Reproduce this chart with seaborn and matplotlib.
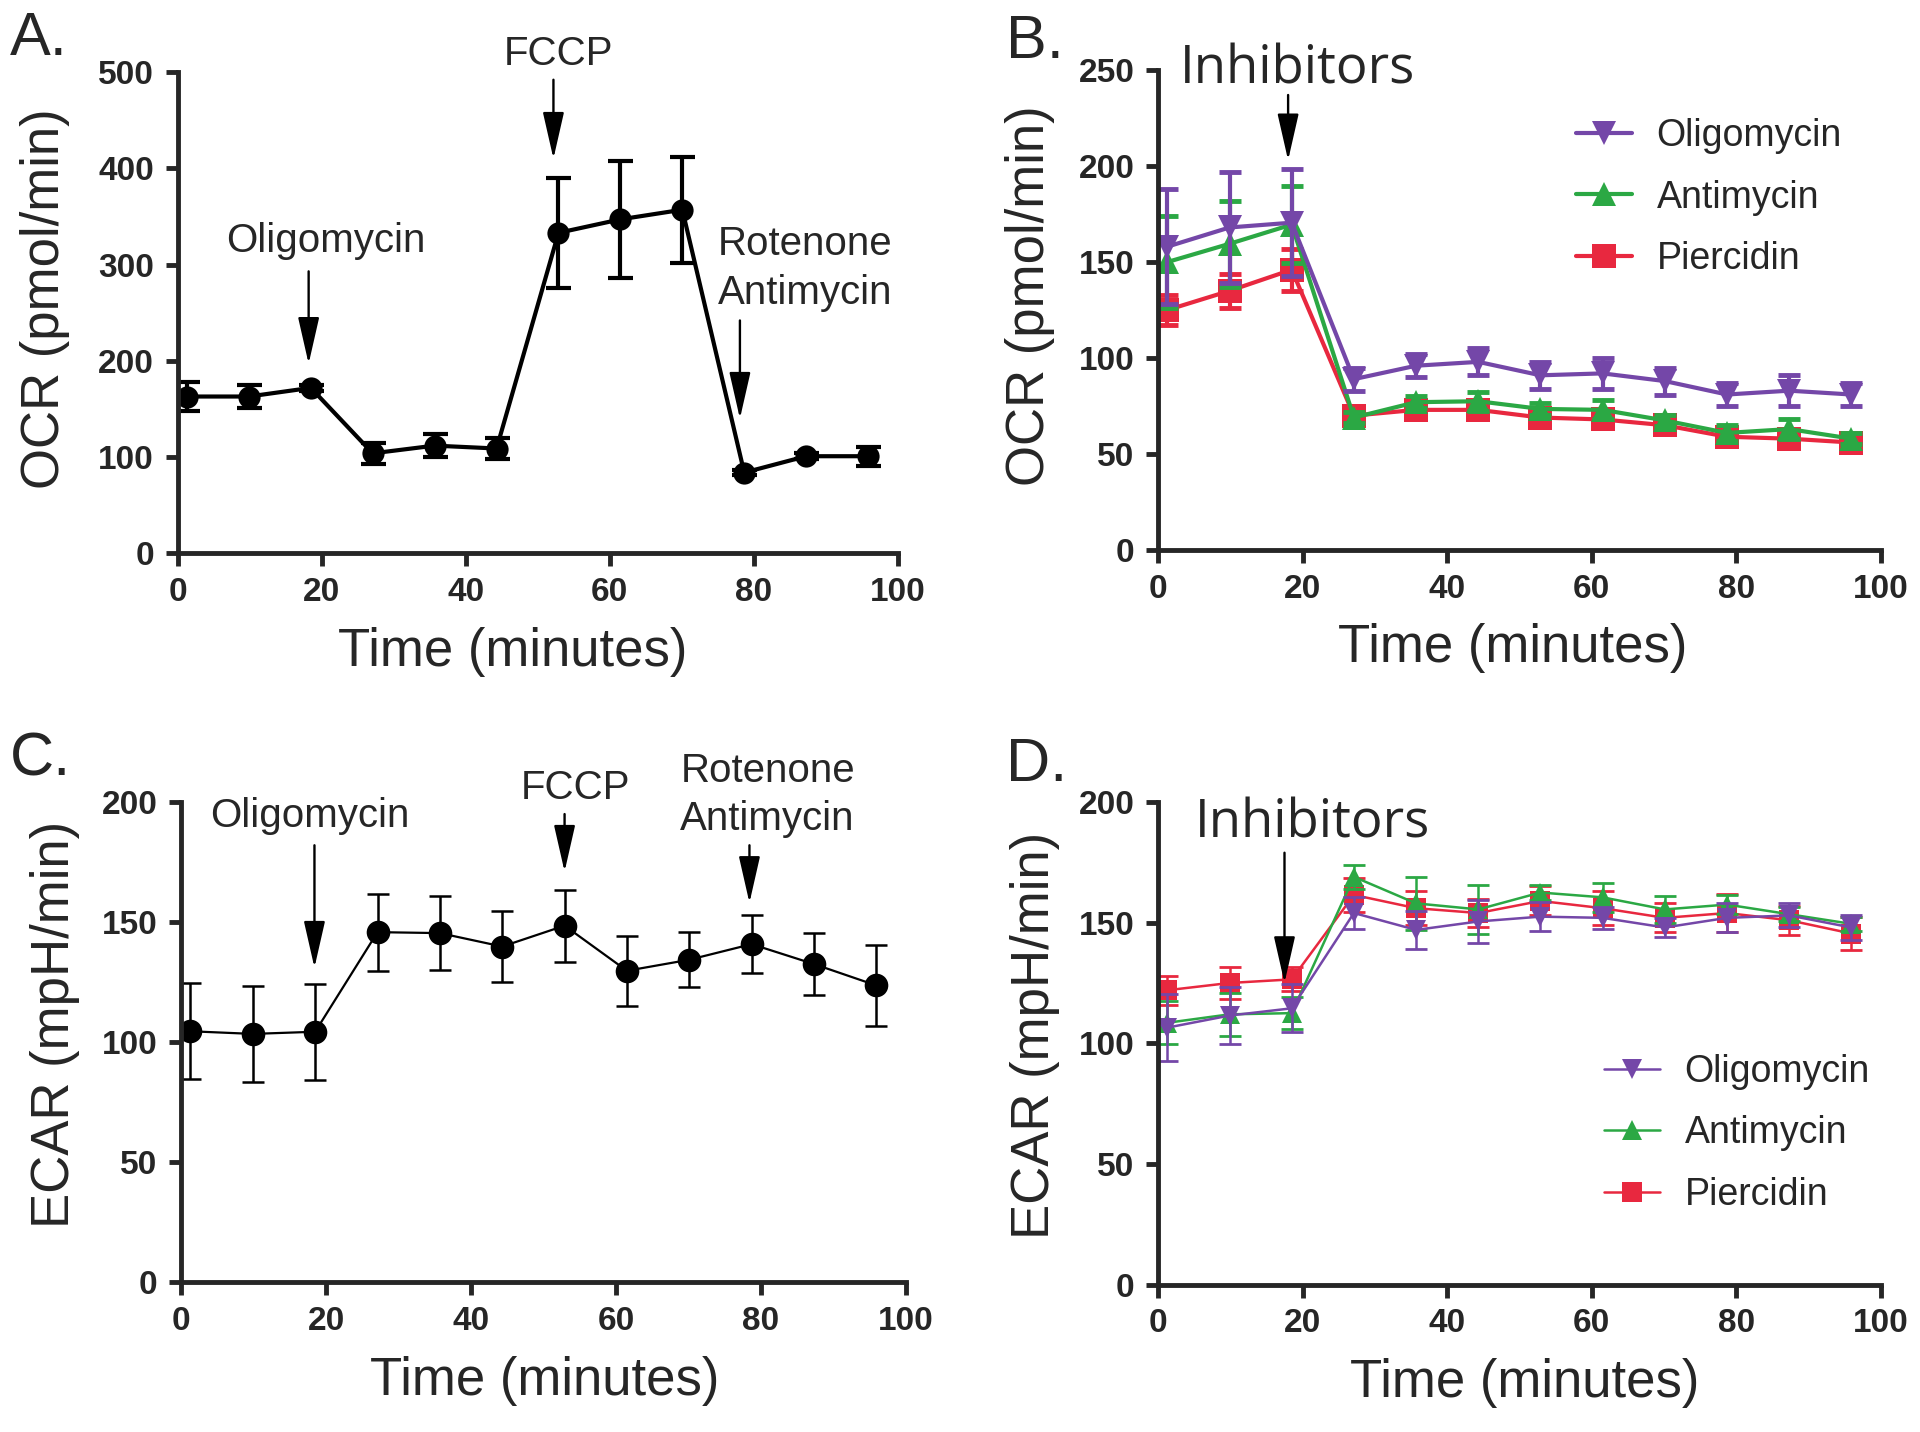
import numpy as np
import matplotlib
matplotlib.use("Agg")
import matplotlib.pyplot as plt
import seaborn as sns

# measurement times (minutes)
time = [1.3, 9.9, 18.5, 27.1, 35.7, 44.3, 52.9, 61.5, 70.1, 78.7, 87.3, 95.9]

# Panel A: mito stress test OCR
ocr_mean = [163, 163, 172, 104, 112, 109, 333, 347, 357, 84, 101, 101]
ocr_err = [15, 12, 3, 11, 12, 11, 57, 61, 55, 3, 3, 10]

# Panel C: mito stress test ECAR
ecar_mean = [104.5, 103.4, 104.3, 145.8, 145.4, 139.8, 148.5, 129.7, 134.3, 140.8, 132.5, 123.6]
ecar_err = [20, 20, 20, 16, 15.5, 14.7, 15, 14.5, 11.5, 12, 13, 17]

# Panel B: OCR with inhibitors
oligo_ocr = [158, 168, 170.5, 89, 96, 98, 91, 92, 88, 81, 83, 81]
oligo_ocr_err = [30, 29, 28, 6, 6, 7, 7, 8, 7, 6, 8, 6]
anti_ocr = [150, 159.5, 169.5, 69, 77, 77.5, 73.5, 73, 67.5, 61, 63, 58]
anti_ocr_err = [24, 22.5, 20, 3, 3, 5, 3, 5, 3, 4, 5, 3]
pier_ocr = [125, 135, 146, 70, 73, 73, 69, 68, 65, 59, 58, 56]
pier_ocr_err = [8, 9, 11, 3, 3, 3, 3, 3, 3, 3, 3, 3]

# Panel D: ECAR with inhibitors
oligo_ecar = [106.5, 111.5, 114.5, 154, 147, 150.5, 152.5, 152, 148, 152, 153, 148]
oligo_ecar_err = [14, 12, 10, 6.5, 8, 9, 6, 4.5, 4, 6, 5, 5]
anti_ecar = [108.5, 112, 112.5, 169, 158, 155.5, 162.5, 160.5, 155.5, 157.5, 153.5, 149.5]
anti_ecar_err = [9, 9, 6.5, 5, 11, 10, 3, 6, 5.5, 4, 3, 3]
pier_ecar = [122, 125, 126.5, 161.5, 156, 154, 159, 156, 152, 154, 151, 145.5]
pier_ecar_err = [6, 6.5, 5, 7, 7, 6, 6, 7, 6, 8, 6, 7]

series_names = ["Oligomycin", "Antimycin", "Piercidin"]
purple, green, red = "#7447A8", "#2BA844", "#E8283F"

sns.set_style("ticks")
plt.rcParams["font.family"] = ["Liberation Sans", "DejaVu Sans"]

fig = plt.figure(figsize=(19.2, 14.32), dpi=100)
axA = fig.add_axes([0.0925, 0.6135, 0.375, 0.3362])
axB = fig.add_axes([0.6031, 0.6159, 0.3766, 0.3352])
axC = fig.add_axes([0.0943, 0.1047, 0.3776, 0.3352])
axD = fig.add_axes([0.6031, 0.1030, 0.3766, 0.3369])


def style_axis(ax, ymax, ystep, ylabel, ylab_x, ylab_y, xlab_x):
    sns.despine(ax=ax)
    for s in ["left", "bottom"]:
        ax.spines[s].set_linewidth(3.5)
    ax.set_xlim(0, 100)
    ax.set_ylim(0, ymax)
    ax.set_xticks(np.arange(0, 101, 20))
    ax.set_yticks(np.arange(0, ymax + 1, ystep))
    ax.tick_params(width=3.5, length=9, labelsize=24, pad=8)
    plt.setp(ax.get_xticklabels() + ax.get_yticklabels(), fontweight="bold")
    ax.set_xlabel("Time (minutes)", fontsize=38, va="top")
    ax.set_ylabel(ylabel, fontsize=38)
    ax.xaxis.set_label_coords(xlab_x, -0.153)
    ax.yaxis.set_label_coords(ylab_x, ylab_y)


def arrow(ax, x, y0, y1, lw=1.7):
    ax.annotate("", xy=(x, y1), xytext=(x, y0), annotation_clip=False,
                arrowprops=dict(arrowstyle="-|>,head_length=1.45,head_width=0.33",
                                mutation_scale=20, lw=lw, color="black",
                                shrinkA=0, shrinkB=0))


# ---- Panel A
sns.lineplot(x=time, y=ocr_mean, ax=axA, color="black", linewidth=3, marker="o",
             markersize=16, markeredgecolor="black", markeredgewidth=0)
axA.errorbar(time, ocr_mean, yerr=ocr_err, fmt="none", ecolor="black",
             elinewidth=3, capsize=9, capthick=3)
style_axis(axA, 500, 100, "OCR (pmol/min)", -0.149, 0.529, 0.466)
axA.text(20.6, 324, "Oligomycin", fontsize=29, ha="center", va="center")
arrow(axA, 18.2, 293, 197)
axA.text(52.9, 519, "FCCP", fontsize=29, ha="center", va="center", clip_on=False)
arrow(axA, 52.2, 492, 410)
axA.text(87.2, 321, "Rotenone", fontsize=29, ha="center", va="center")
axA.text(87.2, 270, "Antimycin", fontsize=29, ha="center", va="center")
arrow(axA, 78.1, 242, 140)

# ---- Panel C
sns.lineplot(x=time, y=ecar_mean, ax=axC, color="black", linewidth=1.6, marker="o",
             markersize=17, markeredgecolor="black", markeredgewidth=0)
axC.errorbar(time, ecar_mean, yerr=ecar_err, fmt="none", ecolor="black",
             elinewidth=1.8, capsize=8, capthick=1.8)
style_axis(axC, 200, 50, "ECAR (mpH/min)", -0.14, 0.537, 0.502)
axC.text(17.7, 194, "Oligomycin", fontsize=29, ha="center", va="center")
arrow(axC, 18.4, 182, 131)
axC.text(54.4, 206, "FCCP", fontsize=29, ha="center", va="center", clip_on=False)
arrow(axC, 52.9, 195, 171)
axC.text(80.9, 213, "Rotenone", fontsize=29, ha="center", va="center", clip_on=False)
axC.text(80.9, 193, "Antimycin", fontsize=29, ha="center", va="center")
arrow(axC, 78.4, 182, 158)

# ---- Panel B
b_series = [(pier_ocr, pier_ocr_err, red, "s", "Piercidin"),
            (anti_ocr, anti_ocr_err, green, "^", "Antimycin"),
            (oligo_ocr, oligo_ocr_err, purple, "v", "Oligomycin")]
handles = {}
for vals, err, col, mk, name in b_series:
    axB.errorbar(time, vals, yerr=err, fmt="none", ecolor=col,
                 elinewidth=3, capsize=8, capthick=3.5)
    sns.lineplot(x=time, y=vals, ax=axB, color=col, linewidth=3, marker=mk,
                 markersize=17, markeredgecolor=col, markeredgewidth=0, label=name)
    handles[name] = axB.lines[-1]
style_axis(axB, 250, 50, "OCR (pmol/min)", -0.142, 0.529, 0.49)
axB.legend([handles[n] for n in series_names], series_names, loc="upper left",
           bbox_to_anchor=(0.578, 0.9), frameon=False, fontsize=27,
           handlelength=1.5, handletextpad=0.65, labelspacing=0.68,
           borderpad=0, borderaxespad=0)
axB.text(19.3, 250, "Inhibitors", fontsize=38, ha="center", va="center",
         family=["Open Sans", "DejaVu Sans"], clip_on=False)
arrow(axB, 18.0, 237, 203)

# ---- Panel D
d_series = [(pier_ecar, pier_ecar_err, red, "s", "Piercidin"),
            (anti_ecar, anti_ecar_err, green, "^", "Antimycin"),
            (oligo_ecar, oligo_ecar_err, purple, "v", "Oligomycin")]
handles = {}
for vals, err, col, mk, name in d_series:
    axD.errorbar(time, vals, yerr=err, fmt="none", ecolor=col,
                 elinewidth=1.8, capsize=8, capthick=2)
    sns.lineplot(x=time, y=vals, ax=axD, color=col, linewidth=1.8, marker=mk,
                 markersize=15, markeredgecolor=col, markeredgewidth=0, label=name)
    handles[name] = axD.lines[-1]
style_axis(axD, 200, 50, "ECAR (mpH/min)", -0.135, 0.517, 0.507)
axD.legend([handles[n] for n in series_names], series_names, loc="upper left",
           bbox_to_anchor=(0.617, 0.478), frameon=False, fontsize=27,
           handlelength=1.5, handletextpad=0.65, labelspacing=0.68,
           borderpad=0, borderaxespad=0)
axD.text(21.4, 191, "Inhibitors", fontsize=38, ha="center", va="center",
         family=["Open Sans", "DejaVu Sans"], clip_on=False)
arrow(axD, 17.5, 179, 125)

# panel letters
for lbl, x, y in [("A.", 0.005, 0.992), ("B.", 0.524, 0.99),
                  ("C.", 0.005, 0.489), ("D.", 0.524, 0.485)]:
    fig.text(x, y, lbl, fontsize=44, ha="left", va="top")

fig.savefig("out.png", dpi=100)
